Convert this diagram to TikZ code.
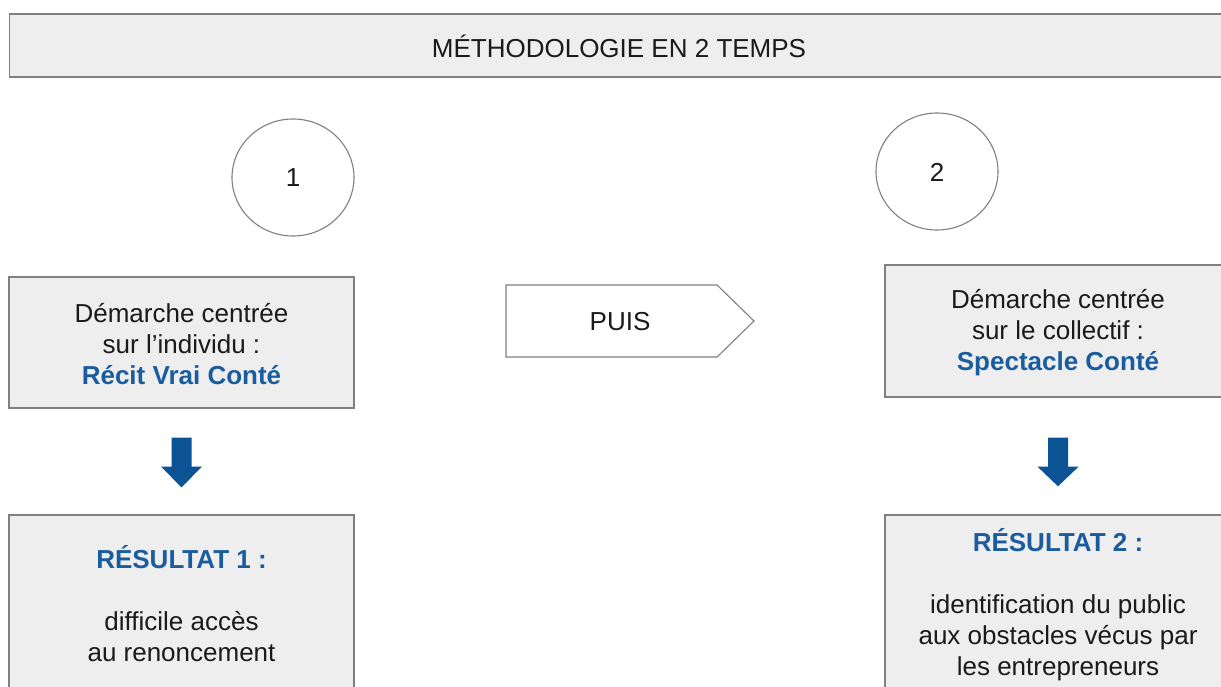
\documentclass[tikz,border=0pt]{standalone}
\usepackage{fontspec}
\setmainfont{Liberation Sans}
\usetikzlibrary{calc}
\definecolor{boxfill}{HTML}{EEEEEE}
\definecolor{boxline}{HTML}{808080}
\definecolor{blutext}{HTML}{1A5C9E}
\definecolor{bluarrow}{HTML}{0B5394}
\definecolor{txt}{HTML}{1A1A1A}
\tikzset{
  graybox/.style={draw=boxline, line width=1.3pt, fill=boxfill, inner sep=0pt},
  bodytext/.style={font=\fontsize{26}{31}\selectfont, text=txt, align=center, inner sep=0pt},
  blockarrow/.style={fill=bluarrow, draw=none},
}
\begin{document}
\begin{tikzpicture}[x=1pt,y=-1pt]
\useasboundingbox (0,0) rectangle (1221,687);
\clip (0,0) rectangle (1221,687);
\fill[white] (0,0) rectangle (1221,687);

% title
\node[graybox, minimum width=1220pt, minimum height=63pt] (title) at (619.5,45.5) {};
\node[bodytext] (titletext) at (619,46.5) {MÉTHODOLOGIE EN 2 TEMPS};

% circles
\draw[draw=boxline, line width=1.1pt, fill=white] (293,177.5) ellipse [x radius=61, y radius=58.5];
\node[bodytext] (n1) at (293,178) {1};
\draw[draw=boxline, line width=1.1pt, fill=white] (937,171.5) ellipse [x radius=61, y radius=58.5];
\node[bodytext] (n2) at (937,172) {2};

% boxes left
\node[graybox, minimum width=345pt, minimum height=131pt] (b1) at (181.5,342.5) {};
\node[bodytext] (b1t) at (181.5,344.5) {Démarche centrée\\sur l’individu :\\\textcolor{blutext}{\textbf{Récit Vrai Conté}}};

\node[graybox, minimum width=345pt, minimum height=200pt] (r1) at (181.5,615) {};
\node[bodytext] (r1t) at (181.5,604) {\textcolor{blutext}{\textbf{RÉSULTAT 1 :}}\\[31pt]difficile accès\\au renoncement};

% boxes right
\node[graybox, minimum width=346pt, minimum height=132pt] (b2) at (1058,331) {};
\node[bodytext] (b2t) at (1058,333) {Démarche centrée\\sur le collectif :\\\textcolor{blutext}{\textbf{Spectacle Conté}}};

\node[graybox, minimum width=346pt, minimum height=200pt] (r2) at (1058,615) {};
\node[bodytext] (r2t) at (1058,604.5) {\textcolor{blutext}{\textbf{RÉSULTAT 2 :}}\\[31pt]identification du public\\aux obstacles vécus par\\les entrepreneurs};

% PUIS pentagon
\draw[draw=boxline, line width=1.1pt, fill=white] (506,285) -- (717,285) -- (754,321) -- (717,357) -- (506,357) -- cycle;
\node[bodytext] (puis) at (620,322) {PUIS};

% block arrows
\fill[blockarrow] ($(b1.south)+(-10,29)$) -- ($(b1.south)+(10,29)$) -- ($(b1.south)+(10,58)$) -- ($(b1.south)+(20.5,58)$) -- ($(r1.north)+(0,-27)$) -- ($(b1.south)+(-20.5,58)$) -- ($(b1.south)+(-10,58)$) -- cycle;
\fill[blockarrow] ($(b2.south)+(-10,40)$) -- ($(b2.south)+(10,40)$) -- ($(b2.south)+(10,69)$) -- ($(b2.south)+(20.5,69)$) -- ($(r2.north)+(0,-28)$) -- ($(b2.south)+(-20.5,69)$) -- ($(b2.south)+(-10,69)$) -- cycle;
\end{tikzpicture}
\end{document}
